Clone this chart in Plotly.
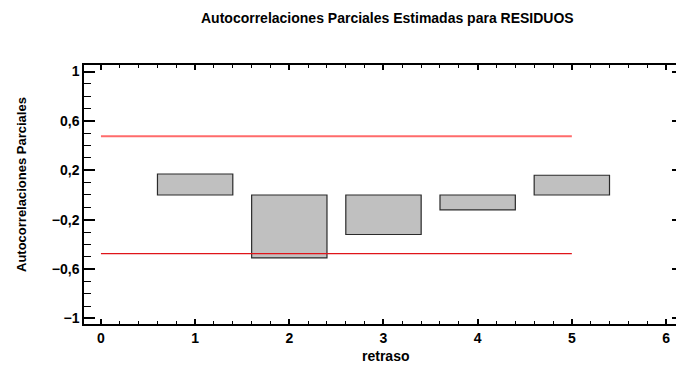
import plotly.graph_objects as go

# Partial autocorrelations of the residuals by lag
lags = [1, 2, 3, 4, 5]
pacf = [0.17, -0.51, -0.32, -0.12, 0.16]

# 95% probability limits
limit_lags = [0, 5]
upper_limit = 0.475
lower_limit = -0.475

title_text = "Autocorrelaciones Parciales Estimadas para RESIDUOS"
x_title = "retraso"
y_title = "Autocorrelaciones Parciales"

FONT = "Liberation Sans, Arial, sans-serif"

fig = go.Figure()

fig.add_trace(go.Bar(
    x=lags,
    y=pacf,
    width=0.8,
    marker=dict(color="#c0c0c0", line=dict(color="#2a2a2a", width=1.2)),
    hoverinfo="x+y",
))

fig.add_trace(go.Scatter(
    x=limit_lags, y=[upper_limit] * 2, mode="lines",
    line=dict(color="#ff6b6b", width=2),
))
fig.add_trace(go.Scatter(
    x=limit_lags, y=[lower_limit] * 2, mode="lines",
    line=dict(color="#e0141a", width=1.3),
))

# invisible trace carrying the right-hand tick marks
fig.add_trace(go.Scatter(x=[0], y=[0], yaxis="y2", mode="markers",
                         marker=dict(opacity=0), hoverinfo="skip"))

fig.update_layout(
    width=676, height=367,
    margin=dict(l=84, r=0, t=65, b=43),
    paper_bgcolor="white", plot_bgcolor="white",
    showlegend=False,
    separators=", ",
    font=dict(family=FONT, size=12, color="black"),
    xaxis=dict(
        range=[-0.18, 6.106],
        tick0=0, dtick=1,
        ticks="inside", ticklen=5, tickwidth=1.5, tickcolor="black",
        minor=dict(dtick=0.2, ticks="inside", ticklen=3, tickwidth=1, tickcolor="black"),
        showline=True, linecolor="black", linewidth=1.5, mirror="ticks",
        showgrid=False, zeroline=False,
        tickfont=dict(family=FONT, size=14, color="black", weight="bold"),
    ),
    yaxis=dict(
        range=[-1.045, 1.053],
        tick0=0.2, dtick=0.4,
        ticks="inside", ticklen=11, tickwidth=1.5, tickcolor="black",
        minor=dict(dtick=0.1, tick0=0.2, ticks="inside", ticklen=7, tickwidth=1, tickcolor="black"),
        showline=True, linecolor="black", linewidth=1.5,
        showgrid=False, zeroline=False,
        tickfont=dict(family=FONT, size=14, color="black", weight="bold"),
    ),
    yaxis2=dict(
        overlaying="y", side="right",
        range=[-1.045, 1.053],
        tick0=0.2, dtick=0.4,
        ticks="inside", ticklen=4, tickwidth=1.5, tickcolor="black",
        showticklabels=False, showline=False, showgrid=False, zeroline=False,
    ),
    annotations=[
        dict(text="<b>" + title_text + "</b>", xref="paper", yref="paper",
             x=(387 - 84) / 592, y=1 + (65 - 18) / 259, xanchor="center", yanchor="middle",
             showarrow=False, font=dict(family=FONT, size=14, color="black")),
        dict(text="<b>" + x_title + "</b>", xref="paper", yref="paper",
             x=(385 - 84) / 592, y=-(356 - 324) / 259, xanchor="center", yanchor="middle",
             showarrow=False, font=dict(family=FONT, size=14, color="black")),
        dict(text="<b>" + y_title + "</b>", xref="paper", yref="paper",
             x=-(84 - 21) / 592, y=(324 - 185) / 259, xanchor="center", yanchor="middle",
             textangle=-90, showarrow=False, font=dict(family=FONT, size=13, color="black")),
    ],
)

fig.write_html("out.html")
